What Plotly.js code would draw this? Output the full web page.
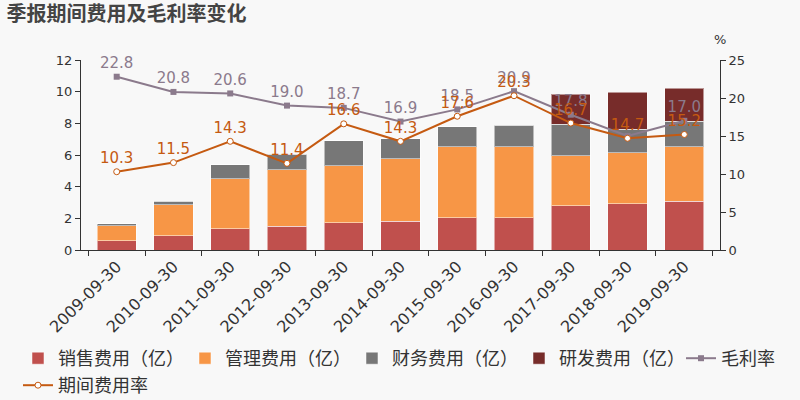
<!DOCTYPE html>
<html><head><meta charset="utf-8">
<script src="https://cdn.plot.ly/plotly-3.0.1.min.js"></script>
<style>body{margin:0;background:#f8f8f8}#c{width:800px;height:400px}</style>
</head><body><div id="c"></div>
<script>
var categories = ["2009-09-30","2010-09-30","2011-09-30","2012-09-30","2013-09-30","2014-09-30","2015-09-30","2016-09-30","2017-09-30","2018-09-30","2019-09-30"];
var sales = [0.59,0.90,1.33,1.50,1.71,1.81,2.04,2.04,2.80,2.93,3.07];
var admin = [0.95,1.96,3.18,3.57,3.60,3.96,4.47,4.49,3.14,3.22,3.44];
var finance = [0.12,0.23,0.86,0.97,1.59,1.26,1.26,1.34,2.00,1.47,1.62];
var rnd = [0,0,0,0,0,0,0,0,1.89,2.34,2.10];
var grossMargin = [22.8,20.8,20.6,19.0,18.7,16.9,18.5,20.9,17.8,15.0,17.0];
var grossLabels = ["22.8","20.8","20.6","19.0","18.7","16.9","18.5","20.9","17.8","","17.0"];
var expenseRate = [10.3,11.5,14.3,11.4,16.6,14.3,17.6,20.3,16.7,14.7,15.2];
var expenseLabels = ["10.3","11.5","14.3","11.4","16.6","14.3","17.6","20.3","16.7","14.7","15.2"];

var font = "DejaVu Sans, Noto Sans CJK SC, sans-serif";
var cjk = "Noto Sans CJK SC, sans-serif";
var barLine = {color:"rgba(255,255,255,0.5)", width:1};
function bar(name, y, color){
  return {type:"bar", name:name, x:categories, y:y, marker:{color:color, line:barLine}, hoverinfo:"y", legend:"legend"};
}
var traces = [
  bar("销售费用（亿）", sales, "#c0504d"),
  bar("管理费用（亿）", admin, "#f79646"),
  bar("财务费用（亿）", finance, "#777777"),
  bar("研发费用（亿）", rnd, "#772c2a"),
  {type:"scatter", mode:"lines+markers+text", name:"毛利率", x:categories, y:grossMargin, yaxis:"y2", cliponaxis:false, legend:"legend2",
   line:{color:"#8b7a8c", width:2}, marker:{symbol:"square", size:6, color:"#8b7a8c"},
   text:grossLabels, textposition:"top center", textfont:{color:"#8b7a8c", size:15, family:font}},
  {type:"scatter", mode:"lines+markers+text", name:"期间费用率", x:categories, y:expenseRate, yaxis:"y2", cliponaxis:false, legend:"legend3",
   line:{color:"#c55a11", width:2}, marker:{symbol:"circle", size:6, color:"#ffffff", line:{color:"#c55a11", width:1}},
   text:expenseLabels, textposition:"top center", textfont:{color:"#c55a11", size:15, family:font}}
];
var legendFont = {size:18, family:cjk, color:"#333"};
var layout = {
  width:800, height:400,
  paper_bgcolor:"#f8f8f8", plot_bgcolor:"#f8f8f8",
  font:{family:font, color:"#333", size:13},
  margin:{l:81, r:80, t:60, b:150, autoexpand:false},
  barmode:"stack", bargap:0.31,
  title:{text:"<b>季报期间费用及毛利率变化</b>", x:0.008, xanchor:"left", y:0.966, yanchor:"middle",
         font:{family:cjk, size:20, color:"#444"}},
  xaxis:{type:"category", tickangle:-45, tickfont:{size:16, color:"#333"}, showline:true, linecolor:"#333", linewidth:1,
         ticks:"outside", tickson:"boundaries", ticklen:5, tickcolor:"#333", showgrid:false, zeroline:false, automargin:false},
  yaxis:{range:[0,12], dtick:2, showline:true, linecolor:"#333", ticks:"outside", ticklen:5, tickcolor:"#333",
         showgrid:false, zeroline:false, tickfont:{size:13}, automargin:false},
  yaxis2:{range:[0,25], dtick:5, overlaying:"y", side:"right", showline:true, linecolor:"#333", ticks:"outside", ticklen:5,
          tickcolor:"#333", showgrid:false, zeroline:false, tickfont:{size:13}, automargin:false},
  legend:{orientation:"h", x:-0.0986, xanchor:"left", y:-0.4737, yanchor:"top", font:legendFont,
          traceorder:"normal", entrywidth:122, entrywidthmode:"pixels", tracegroupgap:0, bgcolor:"rgba(0,0,0,0)"},
  legend2:{orientation:"h", x:0.939, xanchor:"left", y:-0.4737, yanchor:"top", font:legendFont, bgcolor:"rgba(0,0,0,0)"},
  legend3:{orientation:"h", x:-0.0986, xanchor:"left", y:-0.6158, yanchor:"top", font:legendFont, bgcolor:"rgba(0,0,0,0)"},
  annotations:[{text:"%", xref:"paper", yref:"paper", x:1.0, y:1.06, xanchor:"center", yanchor:"bottom", showarrow:false, font:{size:13, color:"#333"}}],
  showlegend:true
};
Plotly.newPlot("c", traces, layout, {displayModeBar:false, staticPlot:true});
</script></body></html>
